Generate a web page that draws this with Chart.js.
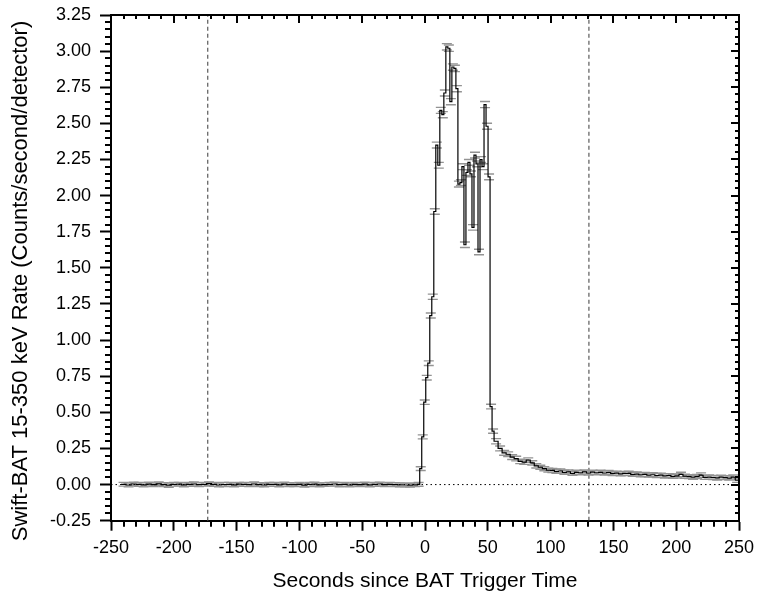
<!DOCTYPE html>
<html><head><meta charset="utf-8">
<script src="https://cdn.jsdelivr.net/npm/chart.js@4/dist/chart.umd.min.js"></script>
<style>html,body{margin:0;padding:0;background:#fff;}#wrap{width:758px;height:592px;}</style>
</head><body><div id="wrap"><canvas id="c" width="758" height="592"></canvas></div>
<script>
// ---- data (bin start times in seconds, rate in counts/s/detector, 1-sigma error) ----
const preTime = [-242,-238,-234,-230,-226,-222,-218,-214,-210,-206,-202,-198,-194,-190,-186,-182,-178,-174,-170,-166,
  -162,-158,-154,-150,-146,-142,-138,-134,-130,-126,-122,-118,-114,-110,-106,-102,-98,-94,-90,-86,
  -82,-78,-74,-70,-66,-62,-58,-54,-50,-46,-42,-38,-34,-30,-26,-22,-18,-14,-10,-6];
const preRate = [0.002,-0.003,0.004,0.001,-0.002,0.003,-0.001,0.005,0.000,-0.004,
  0.002,0.003,-0.002,0.001,0.004,-0.001,0.002,0.006,0.001,-0.003,
  0.000,0.002,-0.002,0.003,0.001,-0.001,0.004,0.000,-0.003,0.002,
  0.001,-0.002,0.003,0.000,-0.001,0.002,-0.004,0.001,0.003,-0.002,
  0.000,0.002,0.004,-0.001,0.001,-0.003,0.002,0.000,0.003,-0.002,
  0.001,0.004,-0.001,0.002,0.000,-0.002,-0.003,-0.004,-0.002,0.001];
const preErr = [0.013,0.013,0.012,0.013,0.014,0.013,0.012,0.013,0.013,0.014,
  0.013,0.012,0.013,0.013,0.014,0.013,0.013,0.012,0.013,0.013,
  0.014,0.013,0.013,0.012,0.013,0.013,0.014,0.013,0.012,0.013,
  0.013,0.013,0.014,0.013,0.012,0.013,0.013,0.014,0.013,0.013,
  0.012,0.013,0.013,0.014,0.013,0.013,0.012,0.013,0.013,0.014,
  0.013,0.013,0.012,0.013,0.013,0.014,0.013,0.013,0.012,0.013];

const burstTime = [-4.2,-2.6,-1.0,0.6,2.2,3.8,5.4,7.0,8.6,10.2,11.8,13.4,15.0,16.6,18.2,19.8,21.4,23.0,24.6,
  26.2,27.8,29.4,31.0,32.6,34.2,35.8,37.4,39.0,40.6,42.2,43.8,45.4,47.0,48.6,50.2,51.8,53.4];
const burstRate = [0.11,0.33,0.57,0.74,0.84,1.17,1.30,1.89,2.35,2.21,2.59,2.56,2.71,3.03,3.02,2.65,2.89,2.88,2.74,
  2.08,2.09,2.20,1.66,2.16,2.23,2.15,1.78,2.28,2.22,1.61,2.25,2.20,2.63,2.48,2.13,0.54,0.37];
const burstErr = [0.013,0.014,0.015,0.016,0.016,0.017,0.018,0.019,0.020,0.020,0.021,0.021,0.021,0.022,0.022,0.021,0.022,0.022,0.021,
  0.020,0.020,0.020,0.019,0.020,0.020,0.020,0.019,0.020,0.020,0.019,0.020,0.020,0.021,0.021,0.020,0.016,0.015];

const tailTime = [55.0,58.2,61.4,64.6,67.8,71.0,74.2,77.4,80.6,83.8,87.0,90.2,93.4,96.6,99.8,103.0,106.2,109.4,112.6,115.8,
  119.0,122.2,125.4,128.6,131.8,135.0,138.2,141.4,144.6,147.8,151.0,154.2,157.4,160.6,163.8,167.0,170.2,173.4,176.6,179.8,
  183.0,186.2,189.4,192.6,195.8,199.0,202.2,205.4,208.6,211.8,215.0,218.2,221.4,224.6,227.8,231.0,234.2,237.4,240.6,243.8,247.0];
const tailRate = [0.30,0.25,0.22,0.21,0.19,0.18,0.16,0.155,0.17,0.15,0.13,0.12,0.11,0.10,0.098,0.092,0.094,0.085,0.088,0.078,
  0.085,0.082,0.088,0.080,0.086,0.082,0.085,0.080,0.083,0.077,0.079,0.074,0.077,0.078,0.071,0.073,0.068,0.070,0.066,0.068,
  0.063,0.065,0.060,0.062,0.057,0.060,0.070,0.058,0.055,0.051,0.056,0.066,0.050,0.052,0.049,0.046,0.051,0.048,0.045,0.052,0.030];
const tailErr = [0.018,0.017,0.017,0.016,0.016,0.016,0.015,0.015,0.015,0.015,0.015,0.014,0.014,0.014,0.014,0.014,0.014,0.014,0.014,0.014,
  0.014,0.014,0.014,0.014,0.014,0.014,0.014,0.014,0.014,0.014,0.014,0.014,0.014,0.014,0.014,0.014,0.014,0.014,0.014,0.014,
  0.014,0.014,0.014,0.014,0.014,0.014,0.015,0.014,0.014,0.014,0.014,0.015,0.014,0.014,0.014,0.014,0.014,0.014,0.014,0.014,0.015];
const endTime = 250;

const markerTimes = [-173, 130.5];
const xTicks = [-250,-200,-150,-100,-50,0,50,100,150,200,250];
const yTicks = [-0.25,0,0.25,0.5,0.75,1,1.25,1.5,1.75,2,2.25,2.5,2.75,3,3.25];
const xTitle = 'Seconds since BAT Trigger Time';
const yTitle = 'Swift-BAT 15-350 keV Rate (Counts/second/detector)';

// ---- build datasets ----
const times = preTime.concat(burstTime, tailTime);
const rates = preRate.concat(burstRate, tailRate);
const errs = preErr.concat(burstErr, tailErr);
const edges = times.concat([endTime]);
const stepPts = times.map((t,i)=>({x:t,y:rates[i]}));
stepPts.push({x:endTime,y:rates[rates.length-1]});
const centers = times.map((t,i)=>(t+edges[i+1])/2);
const upPts = centers.map((c,i)=>({x:c,y:rates[i]+errs[i]}));
const loPts = centers.map((c,i)=>({x:c,y:rates[i]-errs[i]}));

const FONT = "'Liberation Sans', Arial, sans-serif";

const frame = {
  id:'frame',
  afterDraw(chart){
    const {ctx, chartArea:a, scales:{x,y}} = chart;
    ctx.save();
    ctx.strokeStyle='#000'; ctx.lineWidth=2;
    ctx.beginPath();
    ctx.moveTo(a.left-1,a.top); ctx.lineTo(a.right,a.top); ctx.lineTo(a.right,a.bottom+1);
    ctx.stroke();
    ctx.beginPath();
    for (let k=0;k<xTicks.length;k++){
      const v0=xTicks[k];
      for (let m=0;m<5;m++){
        const v=v0+m*10; if (v>xTicks[xTicks.length-1]) break;
        const px=Math.round(x.getPixelForValue(v));
        if(m>0){ ctx.moveTo(px,a.bottom); ctx.lineTo(px,a.bottom+6); }
        ctx.moveTo(px,a.top); ctx.lineTo(px,a.top+(m===0?8:4));
      }
    }
    for (let k=0;k<yTicks.length;k++){
      const v0=yTicks[k];
      for (let m=0;m<5;m++){
        const v=v0+m*0.05; if (v>yTicks[yTicks.length-1]+1e-9) break;
        const py=Math.round(y.getPixelForValue(v));
        if(m>0){ ctx.moveTo(a.left,py); ctx.lineTo(a.left-6,py); }
        ctx.moveTo(a.right,py); ctx.lineTo(a.right-(m===0?8:4),py);
      }
    }
    ctx.stroke();
    // y-axis title
    ctx.fillStyle='#000';
    ctx.font = "22px " + FONT;
    ctx.translate(21, 281);
    ctx.rotate(-Math.PI/2);
    ctx.textAlign='center'; ctx.textBaseline='middle';
    ctx.fillText(yTitle, 0, 0);
    ctx.restore();
  }
};

new Chart(document.getElementById('c'), {
  type:'scatter',
  data:{datasets:[
    {data:stepPts, showLine:true, stepped:'before', borderColor:'#000', borderWidth:1.2, pointRadius:0, order:0},
    {data:upPts, showLine:false, pointStyle:'line', pointRadius:5, pointBorderColor:'#939393', pointBorderWidth:1.4, order:2},
    {data:loPts, showLine:false, pointStyle:'line', pointRadius:5, pointBorderColor:'#939393', pointBorderWidth:1.4, order:2},
    {data:[{x:-250,y:0},{x:250,y:0}], showLine:true, borderColor:'#000', borderWidth:1, borderDash:[1.5,3], pointRadius:0, order:3},
    {data:[{x:markerTimes[0],y:-0.25},{x:markerTimes[0],y:3.25}], showLine:true, borderColor:'#666', borderWidth:1.3, borderDash:[4,3], pointRadius:0, order:4},
    {data:[{x:markerTimes[1],y:-0.25},{x:markerTimes[1],y:3.25}], showLine:true, borderColor:'#666', borderWidth:1.3, borderDash:[4,3], pointRadius:0, order:4}
  ]},
  options:{
    responsive:false, animation:false, devicePixelRatio:1,
    events:[],
    layout:{padding:{top:15,right:19,left:0,bottom:0}},
    plugins:{legend:{display:false}, tooltip:{enabled:false}},
    scales:{
      x:{type:'linear', min:-250, max:250,
        afterBuildTicks:(s)=>{s.ticks=xTicks.map(v=>({value:v}));},
        afterFit:(s)=>{s.height=71.3; s.paddingLeft=0; s.paddingRight=0;},
        ticks:{font:{family:FONT,size:18}, color:'#000', padding:7, maxRotation:0, callback:(v)=>String(v)},
        grid:{display:true, drawOnChartArea:false, drawTicks:true, tickLength:10, tickWidth:2, tickColor:'#000'},
        border:{display:true, color:'#000', width:2},
        title:{display:true, text:xTitle, color:'#000', font:{family:FONT,size:21}, padding:{top:0,bottom:-2}}
      },
      y:{type:'linear', min:-0.25, max:3.25,
        afterBuildTicks:(s)=>{s.ticks=yTicks.map(v=>({value:v}));},
        afterFit:(s)=>{s.width=111; s.paddingTop=0; s.paddingBottom=0;},
        ticks:{font:{family:FONT,size:18}, color:'#000', padding:9, callback:(v)=>Number(v).toFixed(2)},
        grid:{display:true, drawOnChartArea:false, drawTicks:true, tickLength:11, tickWidth:2, tickColor:'#000'},
        border:{display:true, color:'#000', width:2},
        title:{display:false}
      }
    }
  },
  plugins:[frame]
});
</script></body></html>
